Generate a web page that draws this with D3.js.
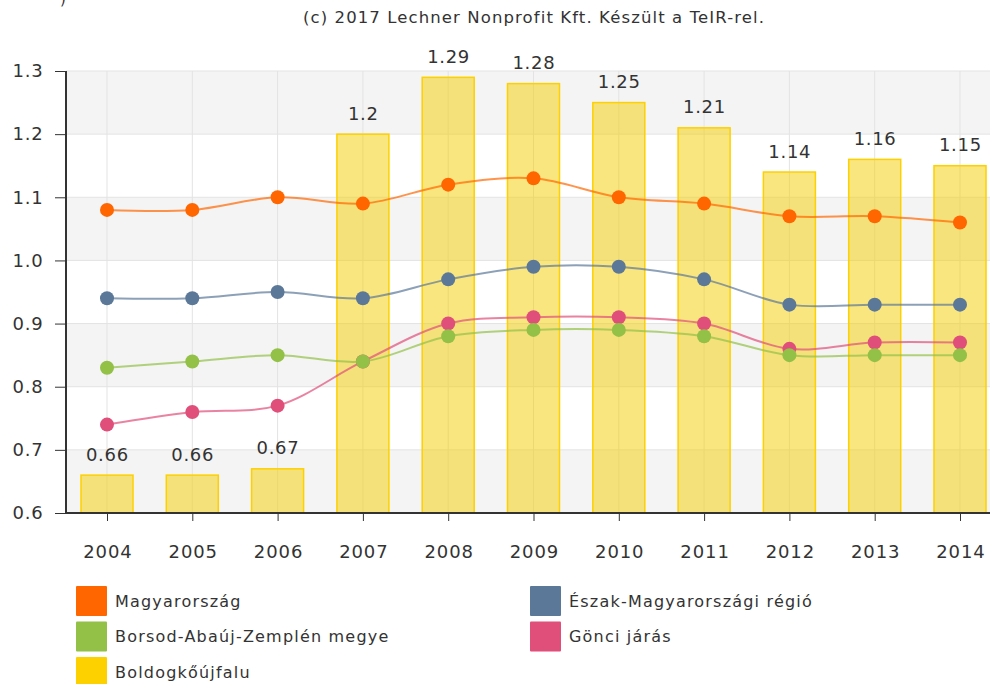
<!DOCTYPE html>
<html lang="hu">
<head>
<meta charset="UTF-8">
<script src="https://d3js.org/d3.v7.min.js"></script>
<style>
  body { margin: 0; background: #fff; font-family: "DejaVu Sans", Verdana, sans-serif; }
  .tick text { fill: #333; }
</style>
</head>
<body>
<svg id="chart"></svg>
<script>
// adatok
const years = ["2004","2005","2006","2007","2008","2009","2010","2011","2012","2013","2014"];
const magyarorszag = [1.08, 1.08, 1.10, 1.09, 1.12, 1.13, 1.10, 1.09, 1.07, 1.07, 1.06];
const eszakMagyar = [0.94, 0.94, 0.95, 0.94, 0.97, 0.99, 0.99, 0.97, 0.93, 0.93, 0.93];
const borsod = [0.83, 0.84, 0.85, 0.84, 0.88, 0.89, 0.89, 0.88, 0.85, 0.85, 0.85];
const gonci = [0.74, 0.76, 0.77, 0.84, 0.90, 0.91, 0.91, 0.90, 0.86, 0.87, 0.87];
const boldogko = [0.66, 0.66, 0.67, 1.2, 1.29, 1.28, 1.25, 1.21, 1.14, 1.16, 1.15];
const yTicks = [0.6, 0.7, 0.8, 0.9, 1.0, 1.1, 1.2, 1.3];

const lineSeries = [
  { name: "Magyarország", values: magyarorszag, color: "#ff6600" },
  { name: "Észak-Magyarországi régió", values: eszakMagyar, color: "#5b7899" },
  { name: "Borsod-Abaúj-Zemplén megye", values: borsod, color: "#93c047" },
  { name: "Gönci járás", values: gonci, color: "#e04e7a" }
];
const legendItems = [
  { name: "Magyarország", color: "#ff6600" },
  { name: "Észak-Magyarországi régió", color: "#5b7899" },
  { name: "Borsod-Abaúj-Zemplén megye", color: "#93c047" },
  { name: "Gönci járás", color: "#e04e7a" },
  { name: "Boldogkőújfalu", color: "#fdd000" }
];

const width = 990, height = 684;
const pLeft = 66, pTop = 71, pBottom = 513, pRight = 990;

const svg = d3.select("#chart").attr("width", width).attr("height", height);

const x = d3.scalePoint().domain(years).range([107, 960]);
const y = d3.scaleLinear().domain([0.6, 1.3]).range([pBottom, pTop]);

// felirat
svg.append("text").attr("x", 60).attr("y", 4).attr("font-size", 15).attr("fill", "#333").text(")");
svg.append("text")
  .attr("x", 534).attr("y", 23)
  .attr("text-anchor", "middle")
  .attr("font-size", 16.5)
  .attr("letter-spacing", 1.1)
  .attr("fill", "#333")
  .text("(c) 2017 Lechner Nonprofit Kft. Készült a TeIR-rel.");

// sávok
for (let i = 0; i < yTicks.length - 1; i += 2) {
  svg.append("rect")
    .attr("x", pLeft).attr("width", pRight - pLeft)
    .attr("y", y(yTicks[i + 1])).attr("height", y(yTicks[i]) - y(yTicks[i + 1]))
    .attr("fill", "#f4f4f4");
}

// rácsvonalak
svg.append("g").selectAll("line").data(yTicks).join("line")
  .attr("x1", pLeft).attr("x2", pRight)
  .attr("y1", d => y(d)).attr("y2", d => y(d))
  .attr("stroke", "#e3e3e3");
svg.append("g").selectAll("line").data(years).join("line")
  .attr("x1", d => x(d)).attr("x2", d => x(d))
  .attr("y1", pTop).attr("y2", pBottom)
  .attr("stroke", "#e3e3e3");

// oszlopok
const barW = 52;
svg.append("g").selectAll("rect").data(boldogko).join("rect")
  .attr("x", (d, i) => x(years[i]) - barW / 2)
  .attr("width", barW)
  .attr("y", d => y(d))
  .attr("height", d => y(0.6) - y(d))
  .attr("fill", "rgba(245,205,0,0.5)")
  .attr("stroke", "#fdd000")
  .attr("stroke-width", 1.5);

svg.append("g").selectAll("text").data(boldogko).join("text")
  .attr("x", (d, i) => x(years[i]) + 0.4)
  .attr("y", d => y(d) - 14.5)
  .attr("text-anchor", "middle")
  .attr("font-size", 18)
  .attr("letter-spacing", 0.7)
  .attr("fill", "#333")
  .text(d => d);

// tengelyek
const yAxis = svg.append("g")
  .attr("transform", `translate(${pLeft},0)`)
  .call(d3.axisLeft(y).tickValues(yTicks).tickSize(11).tickPadding(11.5).tickFormat(d3.format(".1f")));
yAxis.selectAll("text").attr("font-size", 18).attr("letter-spacing", 0.8).attr("font-family", "DejaVu Sans");
yAxis.select(".domain").attr("d", `M0,${pTop}V${pBottom}`).attr("stroke", "#333").attr("stroke-width", 2);
yAxis.selectAll(".tick line").attr("stroke", "#333");

const xAxis = svg.append("g")
  .attr("transform", `translate(0,${pBottom})`)
  .call(d3.axisBottom(x).tickSize(8).tickPadding(24));
xAxis.selectAll("text").attr("font-size", 18).attr("letter-spacing", 0.9).attr("dx", "0.45").attr("font-family", "DejaVu Sans");
xAxis.select(".domain").attr("d", `M${pLeft},0H${pRight}`).attr("stroke", "#333").attr("stroke-width", 2);
xAxis.selectAll(".tick line").attr("stroke", "#333");

// vonalak
const line = d3.line()
  .x((d, i) => x(years[i]))
  .y(d => y(d))
  .curve(d3.curveCatmullRom.alpha(0.5));

lineSeries.slice().reverse().forEach(s => {
  const g = svg.append("g");
  g.append("path")
    .attr("d", line(s.values))
    .attr("fill", "none")
    .attr("stroke", s.color)
    .attr("stroke-width", 2)
    .attr("stroke-opacity", 0.7);
  g.selectAll("circle").data(s.values).join("circle")
    .attr("cx", (d, i) => x(years[i]))
    .attr("cy", d => y(d))
    .attr("r", 7)
    .attr("fill", s.color);
});

// jelmagyarázat
const legend = svg.append("g");
legendItems.forEach((d, i) => {
  const col = i % 2, row = Math.floor(i / 2);
  const lx = col === 0 ? 76 : 530, ly = 586 + row * 35.5;
  legend.append("rect")
    .attr("x", lx).attr("y", ly).attr("width", 31).attr("height", 30)
    .attr("rx", 1).attr("fill", d.color);
  legend.append("text")
    .attr("x", lx + 39).attr("y", ly + 15).attr("dy", "0.35em")
    .attr("font-size", 16).attr("letter-spacing", 1.2).attr("fill", "#333")
    .text(d.name);
});
</script>
</body>
</html>
